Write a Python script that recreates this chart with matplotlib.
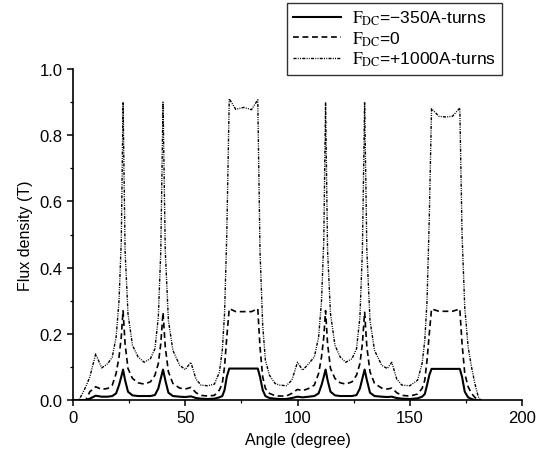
import numpy as np
import matplotlib
matplotlib.use("Agg")
import matplotlib.pyplot as plt
from matplotlib.ticker import MultipleLocator

plt.rcParams['font.family'] = ['Liberation Sans', 'DejaVu Sans']
plt.rcParams['mathtext.fontset'] = 'stix'

# angle (degree)
angle = [0, 2.7, 5.7, 7.5, 10.1, 12.8, 15.5, 17.5, 19.2, 20.5, 21.5, 22.3, 23.2, 24.5,
         26.5, 29, 31.7, 34.5, 36.5, 38, 39.1, 40.1, 41.1, 42.5, 44.5, 47.5, 50, 52.5,
         54.8, 57, 60, 63, 65.2, 66.5, 67.5, 68.5, 69.6, 72.5, 76, 79.5, 82.3, 83.3,
         84.5, 85.7, 87.5, 90,
         92, 95, 97.5, 100, 102.3, 105, 107.5, 109.4, 110.7, 111.7, 112.5, 113.4, 114.7,
         116.7, 119, 121.5, 124.3, 126.3, 127.8, 128.9, 129.9, 130.9, 132.3, 134.3, 137.5,
         140, 142, 144.2, 146.5, 150, 153.5, 155.5, 156.7, 157.7, 158.7, 159.7, 163, 166,
         169, 172.3, 173.3, 174.5, 176, 177.5, 179, 180.5, 181.5]

# F_DC = -350 A-turns
b_neg350 = [0, 0, 0, 0.004, 0.013, 0.010, 0.010, 0.012, 0.020, 0.045, 0.070, 0.092, 0.060, 0.025,
            0.014, 0.012, 0.012, 0.012, 0.015, 0.035, 0.065, 0.092, 0.060, 0.022, 0.012, 0.010, 0.009, 0.011,
            0.006, 0.004, 0.003, 0.004, 0.008, 0.012, 0.030, 0.070, 0.095, 0.095, 0.095, 0.095, 0.095, 0.070,
            0.030, 0.012, 0.006, 0.004,
            0.003, 0.003, 0.006, 0.010, 0.008, 0.010, 0.012, 0.020, 0.045, 0.070, 0.092, 0.060, 0.025,
            0.014, 0.012, 0.012, 0.012, 0.015, 0.035, 0.065, 0.092, 0.060, 0.022, 0.012, 0.010,
            0.009, 0.010, 0.006, 0.004, 0.003, 0.005, 0.010, 0.018, 0.045, 0.075, 0.094, 0.094, 0.094,
            0.094, 0.094, 0.070, 0.025, 0.008, 0.003, 0, 0, 0]

# F_DC = 0
b_zero = [0, 0, 0, 0.025, 0.040, 0.032, 0.035, 0.045, 0.080, 0.130, 0.190, 0.270, 0.170, 0.095,
          0.065, 0.052, 0.048, 0.055, 0.075, 0.110, 0.170, 0.265, 0.160, 0.085, 0.050, 0.036, 0.033, 0.038,
          0.022, 0.014, 0.012, 0.014, 0.030, 0.050, 0.100, 0.190, 0.276, 0.267, 0.267, 0.267, 0.276, 0.160,
          0.070, 0.035, 0.020, 0.013,
          0.012, 0.012, 0.020, 0.032, 0.028, 0.035, 0.045, 0.080, 0.130, 0.190, 0.270, 0.170, 0.095,
          0.065, 0.052, 0.048, 0.055, 0.075, 0.110, 0.170, 0.265, 0.160, 0.085, 0.050, 0.036,
          0.033, 0.036, 0.022, 0.014, 0.012, 0.018, 0.035, 0.060, 0.120, 0.200, 0.275, 0.268, 0.268,
          0.268, 0.275, 0.170, 0.080, 0.040, 0.020, 0.008, 0, 0]

# F_DC = +1000 A-turns
b_pos1000 = [0, 0, 0.040, 0.070, 0.139, 0.097, 0.110, 0.130, 0.190, 0.300, 0.480, 0.900, 0.450, 0.260,
             0.165, 0.130, 0.114, 0.125, 0.155, 0.250, 0.450, 0.900, 0.450, 0.240, 0.150, 0.105, 0.092, 0.114,
             0.063, 0.045, 0.043, 0.048, 0.084, 0.150, 0.260, 0.500, 0.910, 0.878, 0.884, 0.877, 0.907, 0.450,
             0.225, 0.120, 0.075, 0.050,
             0.045, 0.043, 0.060, 0.114, 0.090, 0.110, 0.130, 0.190, 0.300, 0.480, 0.900, 0.450, 0.260,
             0.165, 0.130, 0.114, 0.125, 0.155, 0.250, 0.450, 0.900, 0.450, 0.240, 0.150, 0.105,
             0.095, 0.114, 0.063, 0.045, 0.043, 0.060, 0.110, 0.180, 0.300, 0.550, 0.880, 0.857, 0.855,
             0.857, 0.882, 0.500, 0.280, 0.160, 0.100, 0.050, 0.010, 0]

labels = [r'$\mathrm{F_{DC}}$=−350A-turns', r'$\mathrm{F_{DC}}$=0', r'$\mathrm{F_{DC}}$=+1000A-turns']

fig = plt.figure(figsize=(5.39, 4.56), dpi=100)
ax = fig.add_axes([73 / 539, 55 / 456, 449 / 539, 331 / 456])

ax.plot(angle, b_neg350, color='black', lw=1.5, label=labels[0])
ax.plot(angle, b_zero, color='black', lw=1.2, dashes=(3.5, 2.2), label=labels[1])
ax.plot(angle, b_pos1000, color='black', lw=1.0,
        dashes=(2.2, 0.9, 0.7, 0.9, 0.7, 0.9), label=labels[2])

ax.set_xlim(0, 200)
ax.set_ylim(0, 1.0)
ax.xaxis.set_major_locator(MultipleLocator(50))
ax.xaxis.set_minor_locator(MultipleLocator(25))
ax.yaxis.set_major_locator(MultipleLocator(0.2))
ax.yaxis.set_minor_locator(MultipleLocator(0.1))
ax.yaxis.set_major_formatter(plt.FuncFormatter(lambda v, p: f'{v:.1f}'))

for s in ['top', 'right']:
    ax.spines[s].set_visible(False)
for s in ['left', 'bottom']:
    ax.spines[s].set_linewidth(1.2)
ax.tick_params(which='major', direction='out', length=4, width=1.1, labelsize=12)
ax.tick_params(which='minor', direction='out', length=2.5, width=0.9)

ax.set_xlabel('Angle (degree)', fontsize=11.5, labelpad=5)
ax.set_ylabel('Flux density (T)', fontsize=11.5, labelpad=5)

leg = ax.legend(loc='upper right', bbox_to_anchor=(502 / 539, 1 - 4 / 456),
                bbox_transform=fig.transFigure, fontsize=12.5, frameon=True,
                fancybox=False, edgecolor='black', handlelength=2.8,
                labelspacing=0.12, borderpad=0.35, handletextpad=0.6, borderaxespad=0)
leg.get_frame().set_linewidth(1.0)

fig.savefig('out.png', dpi=100)
